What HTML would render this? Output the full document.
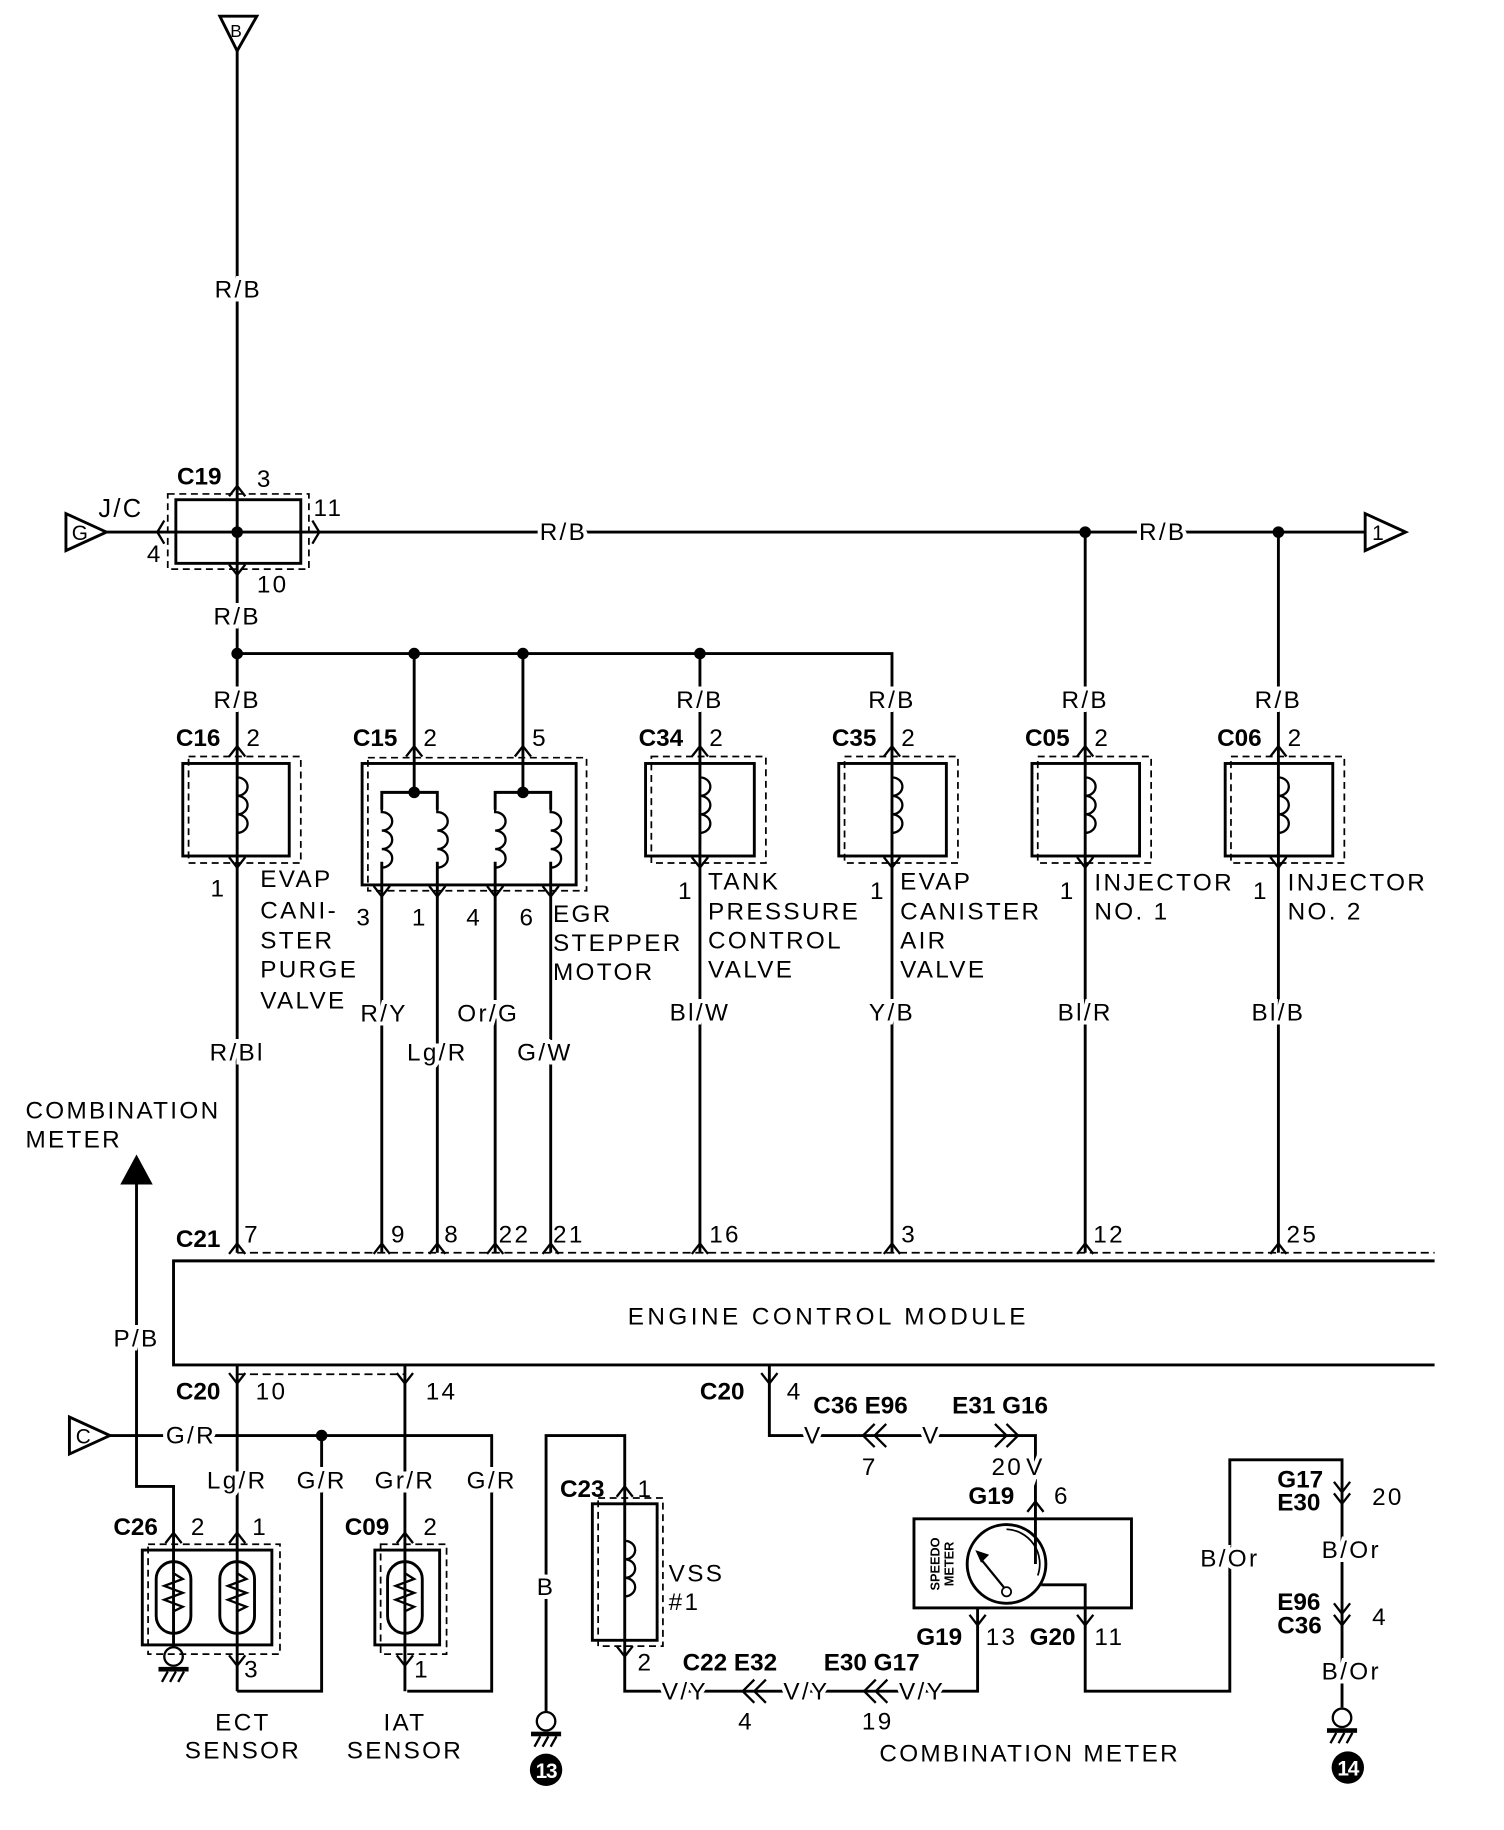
<!DOCTYPE html>
<html><head><meta charset="utf-8"><style>
html,body{margin:0;padding:0;background:#fff;}
svg{display:block;}
text{font-family:"Liberation Sans",sans-serif;font-size:21px;fill:#000;letter-spacing:2px;}
.b{font-weight:bold;letter-spacing:0px;}
.h{stroke:#fff;stroke-width:7px;paint-order:stroke;}
</style></head><body>
<svg width="1504" height="1830" viewBox="0 0 1300 1582" preserveAspectRatio="none" xmlns="http://www.w3.org/2000/svg">
<defs>
<path id="up" d="M-7,9 L0,0 L7,9" fill="none" stroke="#000" stroke-width="2"/>
<path id="dn" d="M-7,-9 L0,0 L7,-9" fill="none" stroke="#000" stroke-width="2"/>
<path id="coil" d="M0,0 v10 a9,8 0 1,1 0,16 a9,8 0 1,1 0,16 a9,8 0 1,1 0,16 v10" fill="none" stroke="#000" stroke-width="2"/>
<g id="therm"><rect x="-15" y="0" width="30" height="62" rx="15" fill="none" stroke="#000" stroke-width="2.5"/><path d="M0,-5 v15 l8,5 l-16,6 l16,6 l-16,6 l16,6 l-8,4 v22" fill="none" stroke="#000" stroke-width="2"/></g>
<g id="gnd"><circle cx="0" cy="0" r="8" fill="none" stroke="#000" stroke-width="2"/><rect x="-13" y="9" width="26" height="4" fill="#000"/><path d="M-10,22 l5,-9 M-3,22 l5,-9 M4,22 l5,-9" stroke="#000" stroke-width="2"/></g>
</defs>
<g fill="none" stroke="#000" stroke-width="2.5">
<path d="M190,14 L222,14 L205,44 Z"/>
<line x1="205" y1="44" x2="205" y2="565"/>
<path d="M57,444 L57,476 L92,460 Z"/>
<line x1="92" y1="460" x2="1180" y2="460"/>
<path d="M1180,444 L1180,476 L1215,460 Z"/>
<rect x="152" y="432" width="108" height="55"/>
<rect x="145" y="427" width="122" height="65" stroke-dasharray="6,4" stroke-width="1.5"/>
<polyline points="205,565 771,565 771,660"/>
<line x1="358" y1="565" x2="358" y2="685"/>
<line x1="452" y1="565" x2="452" y2="685"/>
<line x1="605" y1="565" x2="605" y2="1083"/>
<line x1="938" y1="460" x2="938" y2="1083"/>
<line x1="1105" y1="460" x2="1105" y2="1083"/>
<line x1="205" y1="565" x2="205" y2="1083"/>
<line x1="771" y1="660" x2="771" y2="1083"/>
<rect x="158" y="660" width="92" height="80"/><rect x="163" y="654" width="97" height="92" stroke-dasharray="6,4" stroke-width="1.5"/>
<rect x="313" y="660" width="185" height="105"/><rect x="318" y="655" width="189" height="115" stroke-dasharray="6,4" stroke-width="1.5"/>
<rect x="558" y="660" width="94" height="80"/><rect x="563" y="654" width="99" height="92" stroke-dasharray="6,4" stroke-width="1.5"/>
<rect x="725" y="660" width="93" height="80"/><rect x="730" y="654" width="98" height="92" stroke-dasharray="6,4" stroke-width="1.5"/>
<rect x="892" y="660" width="93" height="80"/><rect x="897" y="654" width="98" height="92" stroke-dasharray="6,4" stroke-width="1.5"/>
<rect x="1059" y="660" width="93" height="80"/><rect x="1064" y="654" width="98" height="92" stroke-dasharray="6,4" stroke-width="1.5"/>
<polyline points="330,700 330,685 378,685 378,700"/>
<polyline points="428,700 428,685 476,685 476,700"/>
<line x1="330" y1="745" x2="330" y2="1083"/>
<line x1="378" y1="745" x2="378" y2="1083"/>
<line x1="428" y1="745" x2="428" y2="1083"/>
<line x1="476" y1="745" x2="476" y2="1083"/>
<path d="M1240,1090 L150,1090 L150,1180 L1240,1180"/>
<path d="M205,1083 L1240,1083" stroke-dasharray="7,4" stroke-width="1.5"/>
<path d="M205,1188 L350,1188" stroke-dasharray="7,4" stroke-width="1.5"/>
<polyline points="118,1024 118,1285 150,1285 150,1340"/>
<path d="M60,1225 L60,1257 L95,1241 Z"/>
<polyline points="95,1241 425,1241 425,1462 352,1462"/>
<polyline points="278,1241 278,1462 205,1462"/>
<line x1="205" y1="1180" x2="205" y2="1462"/>
<line x1="350" y1="1180" x2="350" y2="1462"/>
<rect x="123" y="1340" width="112" height="82"/><rect x="128" y="1335" width="114" height="95" stroke-dasharray="6,4" stroke-width="1.5"/>
<rect x="324" y="1340" width="56" height="82"/><rect x="329" y="1335" width="57" height="95" stroke-dasharray="6,4" stroke-width="1.5"/>
<line x1="150" y1="1340" x2="150" y2="1424"/>
<polyline points="472,1480 472,1241 540,1241 540,1462 845,1462 845,1390"/>
<rect x="512" y="1300" width="56" height="118"/><rect x="517" y="1295" width="56" height="128" stroke-dasharray="6,4" stroke-width="1.5"/>
<polyline points="665,1180 665,1241 895,1241 895,1352"/>
<rect x="790" y="1313" width="188" height="77"/>
<circle cx="870" cy="1352" r="34"/>
<path d="M870,1322 A30,30 0 0 1 897,1362" stroke-width="1.5"/>
<polyline points="900,1370 938,1370 938,1462 1063,1462 1063,1262 1160,1262 1160,1476"/>
<line x1="848" y1="1348" x2="870" y2="1375" stroke-width="2"/>
</g>
<circle cx="870" cy="1376" r="4" fill="#fff" stroke="#000" stroke-width="1.5"/>
<path d="M843,1340 l12,4 l-7,7 Z" fill="#000"/>
<path d="M104,1024 L132,1024 L118,998 Z" fill="#000"/>
<g fill="#000"><circle cx="205" cy="460" r="5"/><circle cx="938" cy="460" r="5"/><circle cx="1105" cy="460" r="5"/>
<circle cx="205" cy="565" r="5"/><circle cx="358" cy="565" r="5"/><circle cx="452" cy="565" r="5"/><circle cx="605" cy="565" r="5"/>
<circle cx="358" cy="685" r="5"/><circle cx="452" cy="685" r="5"/><circle cx="278" cy="1241" r="5"/></g>
<use href="#coil" x="205" y="662"/><use href="#coil" x="605" y="662"/><use href="#coil" x="771" y="662"/><use href="#coil" x="938" y="662"/><use href="#coil" x="1105" y="662"/>
<use href="#coil" x="330" y="692"/><use href="#coil" x="378" y="692"/><use href="#coil" x="428" y="692"/><use href="#coil" x="476" y="692"/>
<use href="#coil" x="540" y="1322"/>
<g stroke="#000" stroke-width="2"><line x1="540" y1="1300" x2="540" y2="1322"/><line x1="540" y1="1390" x2="540" y2="1418"/></g>
<use href="#therm" x="150" y="1350"/><use href="#therm" x="205" y="1350"/><use href="#therm" x="350" y="1350"/>
<use href="#gnd" x="150" y="1432"/><use href="#gnd" x="472" y="1488"/><use href="#gnd" x="1160" y="1485"/>
<g>
<use href="#up" x="205" y="420"/><use href="#dn" x="205" y="497"/>
<use href="#up" x="205" y="645"/><use href="#dn" x="205" y="750"/>
<use href="#up" x="358" y="645"/><use href="#up" x="452" y="645"/>
<use href="#dn" x="330" y="775"/><use href="#dn" x="378" y="775"/><use href="#dn" x="428" y="775"/><use href="#dn" x="476" y="775"/>
<use href="#up" x="605" y="645"/><use href="#dn" x="605" y="750"/>
<use href="#up" x="771" y="645"/><use href="#dn" x="771" y="750"/>
<use href="#up" x="938" y="645"/><use href="#dn" x="938" y="750"/>
<use href="#up" x="1105" y="645"/><use href="#dn" x="1105" y="750"/>
<use href="#up" x="205" y="1075"/><use href="#up" x="330" y="1075"/><use href="#up" x="378" y="1075"/><use href="#up" x="428" y="1075"/><use href="#up" x="476" y="1075"/>
<use href="#up" x="605" y="1075"/><use href="#up" x="771" y="1075"/><use href="#up" x="938" y="1075"/><use href="#up" x="1105" y="1075"/>
<use href="#dn" x="205" y="1196"/><use href="#dn" x="350" y="1196"/><use href="#dn" x="665" y="1196"/>
<use href="#up" x="150" y="1325"/><use href="#up" x="205" y="1325"/><use href="#up" x="350" y="1325"/>
<use href="#dn" x="205" y="1440"/><use href="#dn" x="350" y="1440"/>
<use href="#up" x="540" y="1285"/><use href="#dn" x="540" y="1432"/>
<use href="#up" x="895" y="1298"/><use href="#dn" x="845" y="1405"/><use href="#dn" x="938" y="1405"/>
<use href="#dn" x="1160" y="1290"/><use href="#dn" x="1160" y="1300"/><use href="#dn" x="1160" y="1395"/><use href="#dn" x="1160" y="1405"/>
</g>
<g fill="none" stroke="#000" stroke-width="2">
<path d="M142,450 l-6,10 l6,10 M270,450 l6,10 l-6,10"/>
<path d="M756,1231 l-10,10 l10,10 M766,1231 l-10,10 l10,10"/>
<path d="M860,1231 l10,10 l-10,10 M870,1231 l10,10 l-10,10"/>
<path d="M652,1452 l-10,10 l10,10 M662,1452 l-10,10 l10,10"/>
<path d="M757,1452 l-10,10 l10,10 M767,1452 l-10,10 l10,10"/>
</g>
<circle cx="472" cy="1530" r="14" fill="#000"/><text x="472" y="1537" text-anchor="middle" style="fill:#fff;font-weight:bold;font-size:18px;letter-spacing:-1px">13</text>
<circle cx="1165" cy="1528" r="14" fill="#000"/><text x="1165" y="1535" text-anchor="middle" style="fill:#fff;font-weight:bold;font-size:18px;letter-spacing:-1px">14</text>
<text x="205" y="32" text-anchor="middle" style="font-size:15px">B</text>
<text x="70" y="467" text-anchor="middle" style="font-size:18px">G</text>
<text x="1192" y="467" text-anchor="middle" style="font-size:18px">1</text>
<text x="73" y="1248" text-anchor="middle" style="font-size:18px">C</text>
<g text-anchor="middle">
<text class="h" x="206" y="257">R/B</text>
<text class="h" x="487" y="467">R/B</text>
<text class="h" x="1005" y="467">R/B</text>
<text class="h" x="205" y="540">R/B</text>
<text class="h" x="205" y="612">R/B</text><text class="h" x="605" y="612">R/B</text><text class="h" x="771" y="612">R/B</text><text class="h" x="938" y="612">R/B</text><text class="h" x="1105" y="612">R/B</text>
<text class="h" x="205" y="917">R/Bl</text>
<text class="h" x="332" y="883">R/Y</text><text class="h" x="378" y="917">Lg/R</text><text class="h" x="422" y="883">Or/G</text><text class="h" x="471" y="917">G/W</text>
<text class="h" x="605" y="882">Bl/W</text><text class="h" x="771" y="882">Y/B</text><text class="h" x="938" y="882">Bl/R</text><text class="h" x="1105" y="882">Bl/B</text>
<text class="h" x="118" y="1164">P/B</text>
<text class="h" x="165" y="1248">G/R</text>
<text class="h" x="205" y="1287">Lg/R</text><text class="h" x="278" y="1287">G/R</text><text class="h" x="350" y="1287">Gr/R</text><text class="h" x="425" y="1287">G/R</text>
<text class="h" x="472" y="1379">B</text>
<text class="h" x="703" y="1248">V</text><text class="h" x="805" y="1248">V</text><text class="h" x="895" y="1275">V</text>
<text class="h" x="592" y="1469">V/Y</text><text class="h" x="697" y="1469">V/Y</text><text class="h" x="797" y="1469">V/Y</text>
<text class="h" x="1063" y="1354">B/Or</text><text class="h" x="1168" y="1347">B/Or</text><text class="h" x="1168" y="1452">B/Or</text>
</g>
<g>
<text class="b" x="153" y="419">C19</text>
<text class="b" x="152" y="645">C16</text><text class="b" x="305" y="645">C15</text><text class="b" x="552" y="645">C34</text><text class="b" x="719" y="645">C35</text><text class="b" x="886" y="645">C05</text><text class="b" x="1052" y="645">C06</text>
<text class="b" x="152" y="1078">C21</text><text class="b" x="152" y="1210">C20</text><text class="b" x="605" y="1210">C20</text>
<text class="b" x="98" y="1327">C26</text><text class="b" x="298" y="1327">C09</text><text class="b" x="484" y="1294">C23</text>
<text class="b" x="703" y="1222">C36 E96</text><text class="b" x="823" y="1222">E31 G16</text>
<text class="b" x="837" y="1300">G19</text><text class="b" x="792" y="1422">G19</text><text class="b" x="890" y="1422">G20</text>
<text class="b" x="590" y="1444">C22 E32</text><text class="b" x="712" y="1444">E30 G17</text>
<text class="b" x="1104" y="1286">G17</text><text class="b" x="1104" y="1306">E30</text>
<text class="b" x="1104" y="1392">E96</text><text class="b" x="1104" y="1412">C36</text>
</g>
<g transform="translate(812,1352) rotate(-90)"><text x="0" y="0" text-anchor="middle" style="font-size:11px;font-weight:bold;letter-spacing:0">SPEEDO</text><text x="0" y="12" text-anchor="middle" style="font-size:11px;font-weight:bold;letter-spacing:0">METER</text></g>
<text x="222" y="421">3</text><text x="271" y="446">11</text><text x="127" y="486">4</text><text x="222" y="512">10</text><text x="85" y="447" style="font-size:22px">J/C</text>
<text x="213" y="645">2</text><text x="366" y="645">2</text><text x="460" y="645">5</text><text x="613" y="645">2</text><text x="779" y="645">2</text><text x="946" y="645">2</text><text x="1113" y="645">2</text>
<text x="182" y="775">1</text><text x="586" y="777">1</text><text x="752" y="777">1</text><text x="916" y="777">1</text><text x="1083" y="777">1</text>
<text x="308" y="800">3</text><text x="356" y="800">1</text><text x="403" y="800">4</text><text x="449" y="800">6</text>
<text x="211" y="1074">7</text><text x="338" y="1074">9</text><text x="384" y="1074">8</text><text x="431" y="1074">22</text><text x="478" y="1074">21</text><text x="613" y="1074">16</text><text x="779" y="1074">3</text><text x="945" y="1074">12</text><text x="1112" y="1074">25</text>
<text x="221" y="1210">10</text><text x="368" y="1210">14</text><text x="680" y="1210">4</text>
<text x="165" y="1327">2</text><text x="218" y="1327">1</text><text x="211" y="1450">3</text><text x="366" y="1327">2</text><text x="358" y="1450">1</text>
<text x="551" y="1294">1</text><text x="551" y="1444">2</text>
<text x="745" y="1275">7</text><text x="857" y="1275">20</text><text x="911" y="1300">6</text>
<text x="852" y="1422">13</text><text x="946" y="1422">11</text>
<text x="638" y="1495">4</text><text x="745" y="1495">19</text>
<text x="1186" y="1301">20</text><text x="1186" y="1405">4</text>
<g style="font-size:22px">
<text x="225" y="767">EVAP</text><text x="225" y="794">CANI-</text><text x="225" y="820">STER</text><text x="225" y="845">PURGE</text><text x="225" y="872">VALVE</text>
<text x="478" y="797">EGR</text><text x="478" y="822">STEPPER</text><text x="478" y="847">MOTOR</text>
<text x="612" y="769">TANK</text><text x="612" y="795">PRESSURE</text><text x="612" y="820">CONTROL</text><text x="612" y="845">VALVE</text>
<text x="778" y="769">EVAP</text><text x="778" y="795">CANISTER</text><text x="778" y="820">AIR</text><text x="778" y="845">VALVE</text>
<text x="946" y="770">INJECTOR</text><text x="946" y="795">NO. 1</text>
<text x="1113" y="770">INJECTOR</text><text x="1113" y="795">NO. 2</text>
<text x="22" y="967">COMBINATION</text><text x="22" y="992">METER</text>
<text x="716" y="1145" text-anchor="middle" style="letter-spacing:3px">ENGINE CONTROL MODULE</text>
<text x="578" y="1367">VSS</text><text x="578" y="1392">#1</text>
<text x="210" y="1496" text-anchor="middle">ECT</text><text x="210" y="1520" text-anchor="middle">SENSOR</text>
<text x="350" y="1496" text-anchor="middle">IAT</text><text x="350" y="1520" text-anchor="middle">SENSOR</text>
<text x="890" y="1523" text-anchor="middle">COMBINATION METER</text>
</g>
</svg>
</body></html>
